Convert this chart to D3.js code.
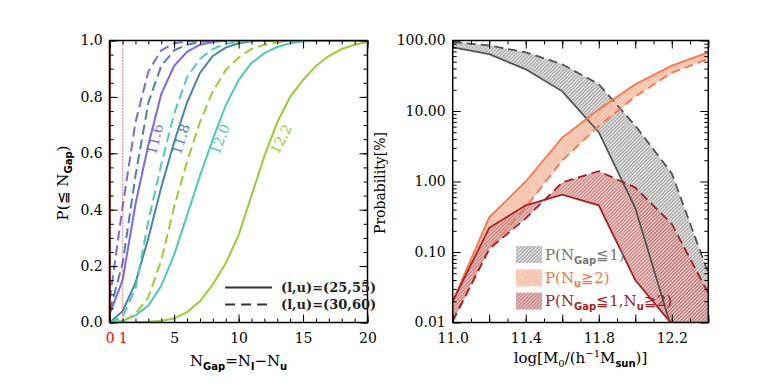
<!DOCTYPE html>
<html>
<head>
<meta charset="utf-8">
<script src="https://cdn.jsdelivr.net/npm/d3@7"></script>
<style>
  body { margin: 0; background: #fff; }
  text { font-family: 'DejaVu Serif', 'Liberation Serif', serif; }
</style>
</head>
<body>
<svg id="chart" width="772" height="386"></svg>
<script>
// ---- left panel data: cumulative P(<= N_gap) for four halo masses ----
const nGap = [0,1,2,3,4,5,6,7,8,9,10,11,12,13,14,15,16,17,18,19,20];
const p116Solid = [0.03,0.15,0.42,0.63,0.81,0.91,0.96,0.985,0.995,1,1,1,1,1,1,1,1,1,1,1,1];
const p116Dash  = [0.08,0.41,0.71,0.89,0.965,0.99,0.997,1,1,1,1,1,1,1,1,1,1,1,1,1,1];
const p118Solid = [0,0.04,0.14,0.30,0.48,0.64,0.78,0.885,0.945,0.975,0.99,0.997,1,1,1,1,1,1,1,1,1];
const p118Dash  = [0.04,0.21,0.52,0.78,0.91,0.965,0.985,0.995,1,1,1,1,1,1,1,1,1,1,1,1,1];
const p120Solid = [0,0.005,0.025,0.06,0.13,0.24,0.38,0.52,0.65,0.77,0.86,0.92,0.955,0.977,0.99,0.996,1,1,1,1,1];
const p120Dash  = [0,0.02,0.12,0.36,0.56,0.74,0.87,0.935,0.97,0.988,0.995,1,1,1,1,1,1,1,1,1,1];
const p122Solid = [0,0,0.001,0.003,0.006,0.014,0.037,0.075,0.135,0.21,0.31,0.45,0.59,0.71,0.80,0.86,0.91,0.945,0.97,0.985,0.995];
const p122Dash  = [0,0.005,0.03,0.09,0.22,0.41,0.57,0.71,0.82,0.895,0.94,0.97,0.985,0.993,1,1,1,1,1,1,1];
const massLabels = ['11.6', '11.8', '12.0', '12.2'];

// ---- right panel data: probabilities [%] vs log M0 ----
const logM0 = [11.0, 11.2, 11.4, 11.6, 11.8, 12.0, 12.2, 12.4];
const gapSolid  = [80, 64, 39, 19, 5.0, 0.42, 0.008, 0.0002];
const gapDash   = [95, 85, 68, 46, 24, 6.2, 1.3, 0.05];
const nuSolid   = [0.02, 0.31, 1.0, 4.2, 10.5, 24, 44, 68];
const nuDash    = [0.0105, 0.11, 0.43, 2.0, 6.1, 16, 35, 55];
const bothSolid = [0.02, 0.22, 0.46, 0.65, 0.46, 0.04, 0.0095, 0.0002];
const bothDash  = [0.0105, 0.11, 0.30, 0.97, 1.4, 0.82, 0.25, 0.026];

// ---- tick values ----
const leftXMajor = [0, 5, 10, 15, 20];
const leftXLabels = [0, 1, 5, 10, 15, 20];
const leftYMajor = [0, 0.2, 0.4, 0.6, 0.8, 1.0];
const rightXLabels = [11.0, 11.4, 11.8, 12.2];
const rightYMajor = [0.01, 0.1, 1, 10, 100];

const svg = d3.select('#chart');
const defs = svg.append('defs');

let yTop = 40.5, yBot = 322.5;

// scales
let xL = d3.scaleLinear().domain([0, 20]).range([109.7, 367.5]),
    yL = d3.scaleLinear().domain([0, 1]).range([yBot, yTop]);
let xR = d3.scaleLinear().domain([11.0, 12.4]).range([452.7, 708.3]),
    yR = d3.scaleLog().domain([0.01, 100]).range([yBot, yTop]);

function clip(id, x) {
  defs.append('clipPath').attr('id', id).append('rect')
    .attr('x', x.range()[0]).attr('y', yTop)
    .attr('width', x.range()[1] - x.range()[0]).attr('height', yBot - yTop);
}
clip('clipL', xL);
clip('clipR', xR);

function hatch(id, bg, line) {
  let p = defs.append('pattern').attr('id', id)
    .attr('patternUnits', 'userSpaceOnUse')
    .attr('width', 2.5).attr('height', 2.5)
    .attr('patternTransform', 'rotate(45)');
  p.append('rect').attr('width', 2.5).attr('height', 2.5).attr('fill', bg);
  p.append('line').attr('x1', 0.5).attr('y1', 0).attr('x2', 0.5).attr('y2', 2.5)
    .attr('stroke', line).attr('stroke-width', 0.9);
}
hatch('hGray', '#d6d6d6', '#9c9c9c');
hatch('hOrange', '#ffd6c4', '#ffa080');
hatch('hRed', '#e0b4b4', '#c06c6c');

// axis helper: inward ticks, no domain line
function axis(g, fn, scale, values, size, fmt) {
  g.call(fn(scale).tickValues(values).tickSizeInner(-size).tickSizeOuter(0)
      .tickPadding(7).tickFormat(fmt || ''))
    .call(s => s.select('.domain').remove())
    .attr('font-family', null).attr('font-size', 14)
    .selectAll('line').attr('stroke', '#000').attr('stroke-width', 1);
  g.selectAll('text').attr('fill', '#000');
}

function frame(x, y, xMajor, xMinor, yMajor, yMinor, xFmt, yFmt, xLabelVals) {
  let x0 = x.range()[0], x1 = x.range()[1];
  let g = svg.append('g');
  axis(g.append('g').attr('transform', `translate(0,${yBot})`), d3.axisBottom, x, xMinor, 4);
  axis(g.append('g').attr('transform', `translate(0,${yBot})`), d3.axisBottom, x, xMajor, 8);
  axis(g.append('g').attr('transform', `translate(0,${yTop})`), d3.axisTop, x, xMinor, 4);
  axis(g.append('g').attr('transform', `translate(0,${yTop})`), d3.axisTop, x, xMajor, 8);
  axis(g.append('g').attr('transform', `translate(${x0},0)`), d3.axisLeft, y, yMinor, 4);
  axis(g.append('g').attr('transform', `translate(${x0},0)`), d3.axisLeft, y, yMajor, 8, yFmt);
  axis(g.append('g').attr('transform', `translate(${x1},0)`), d3.axisRight, y, yMinor, 4);
  axis(g.append('g').attr('transform', `translate(${x1},0)`), d3.axisRight, y, yMajor, 8);
  let lab = g.append('g').attr('transform', `translate(0,${yBot + 4})`);
  axis(lab, d3.axisBottom, x, xLabelVals, 0, xFmt);
  lab.selectAll('line').remove();
  g.append('rect').attr('x', x0).attr('y', yTop).attr('width', x1 - x0).attr('height', yBot - yTop)
    .attr('fill', 'none').attr('stroke', '#000').attr('stroke-width', 1.5);
  return lab;
}

// ================= LEFT PANEL =================
const curves = [
  {solid: p116Solid, dash: p116Dash, color: '#7b68ee', label: massLabels[0], n: 3.5},
  {solid: p118Solid, dash: p118Dash, color: '#4682b4', label: massLabels[1], n: 5.5},
  {solid: p120Solid, dash: p120Dash, color: '#4fcab6', label: massLabels[2], n: 8.55},
  {solid: p122Solid, dash: p122Dash, color: '#9acd32', label: massLabels[3], n: 13.3}
];

let lineL = d3.line().x((d, i) => xL(nGap[i])).y(d => yL(d));
let gL = svg.append('g').attr('clip-path', 'url(#clipL)');

curves.forEach(c => {
  gL.append('path').datum(c.dash).attr('d', lineL).attr('fill', 'none')
    .attr('stroke', c.color).attr('stroke-width', 2).attr('stroke-dasharray', '10,5');
  gL.append('path').datum(c.solid).attr('d', lineL).attr('fill', 'none')
    .attr('stroke', c.color).attr('stroke-width', 2);
});

// marker lines at N_gap = 0 and 1
svg.append('line').attr('x1', xL(0)).attr('x2', xL(0)).attr('y1', yL(0)).attr('y2', yL(1))
  .attr('stroke', '#a51818').attr('stroke-width', 2);
svg.append('line').attr('x1', xL(1)).attr('x2', xL(1)).attr('y1', yL(0)).attr('y2', yL(1))
  .attr('stroke', '#ff2020').attr('stroke-width', 1).attr('stroke-dasharray', '1,2');

// curve labels, rotated along the solid line
curves.forEach(c => {
  let i = Math.floor(c.n);
  let ang = Math.atan2(yL(c.solid[i + 1]) - yL(c.solid[i]), xL(i + 1) - xL(i)) * 180 / Math.PI;
  svg.append('text')
    .attr('transform', `translate(${xL(c.n)},${yL(0.65)}) rotate(${ang})`)
    .attr('text-anchor', 'middle').attr('dy', '0.35em')
    .attr('font-size', 14).attr('fill', c.color).text(c.label);
});

let labL = frame(xL, yL, leftXMajor, nGap, leftYMajor, d3.range(0, 1.001, 0.05),
                 d3.format('d'), d3.format('.1f'), leftXLabels);
labL.selectAll('text').attr('fill', d => d <= 1 ? '#ff0000' : '#000');

// left legend
[['(l,u)=(25,55)', null, 287.5], ['(l,u)=(30,60)', '10,6', 304.5]].forEach(([t, dash, yy]) => {
  svg.append('line').attr('x1', 225).attr('x2', 272).attr('y1', yy).attr('y2', yy)
    .attr('stroke', '#333').attr('stroke-width', 2).attr('stroke-dasharray', dash);
  svg.append('text').attr('x', 281).attr('y', yy + 4.5)
    .attr('font-family', "'Liberation Sans', Arial, sans-serif").attr('font-weight', 'bold')
    .attr('font-size', 13).attr('fill', '#222').text(t);
});

// left axis titles
let sub = (sel, t) => sel.append('tspan').attr('dy', 4).attr('font-size', 10)
  .attr('font-weight', 'bold').attr('font-family', "'DejaVu Sans', sans-serif").text(t);
let up = (sel, t) => sel.append('tspan').attr('dy', -4).text(t);

let ytL = svg.append('text').attr('transform', 'translate(68,183) rotate(-90)')
  .attr('text-anchor', 'middle').attr('font-size', 15).attr('fill', '#000');
ytL.append('tspan').text('P(≦ N');
sub(ytL, 'Gap'); up(ytL, ')');

let xtL = svg.append('text').attr('x', xL(10)).attr('y', 366)
  .attr('text-anchor', 'middle').attr('font-size', 15).attr('fill', '#000');
xtL.append('tspan').text('N');
sub(xtL, 'Gap'); up(xtL, '=N');
sub(xtL, 'l'); up(xtL, '−N');
sub(xtL, 'u');

// ================= RIGHT PANEL =================
const bands = [
  {lo: gapSolid, hi: gapDash, fill: 'url(#hGray)', color: '#555', op: 0.9},
  {lo: nuDash, hi: nuSolid, fill: 'url(#hOrange)', color: '#ff7447', op: 0.9},
  {lo: bothSolid, hi: bothDash, fill: 'url(#hRed)', color: '#a82020', op: 0.85}
];
let gR = svg.append('g').attr('clip-path', 'url(#clipR)');
let areaR = d3.area().x((d, i) => xR(logM0[i])).y0(d => yR(d[0])).y1(d => yR(d[1]));
let lineR = d3.line().x((d, i) => xR(logM0[i])).y(d => yR(d));

bands.forEach(b => {
  gR.append('path').datum(b.lo.map((v, i) => [v, b.hi[i]])).attr('d', areaR)
    .attr('fill', b.fill).attr('fill-opacity', b.op).attr('stroke', 'none');
});
const bandLines = [
  [gapSolid, bands[0].color, null], [gapDash, bands[0].color, '9,5'],
  [nuSolid, bands[1].color, null], [nuDash, bands[1].color, '9,5'],
  [bothSolid, bands[2].color, null], [bothDash, bands[2].color, '9,5']
];
bandLines.forEach(([vals, col, dash]) => {
  gR.append('path').datum(vals).attr('d', lineR).attr('fill', 'none')
    .attr('stroke', col).attr('stroke-width', 1.8).attr('stroke-dasharray', dash);
});

let rMinorY = [];
rightYMajor.slice(0, -1).forEach(d => [2,3,4,5,6,7,8,9].forEach(k => rMinorY.push(d * k)));
frame(xR, yR, d3.range(11.0, 12.41, 0.2), d3.range(11.0, 12.41, 0.1), rightYMajor, rMinorY,
      d3.format('.1f'), d3.format('.2f'), rightXLabels);

// right legend
const legendR = [
  {fill: 'url(#hGray)', color: '#777', parts: [['P(N'], ['Gap', 's'], ['≦1)', 'u']]},
  {fill: 'url(#hOrange)', color: '#ff7447', parts: [['P(N'], ['u', 's'], ['≧2)', 'u']]},
  {fill: 'url(#hRed)', color: '#a82020', parts: [['P(N'], ['Gap', 's'], ['≦1,N', 'u'], ['u', 's'], ['≧2)', 'u']]}
];
legendR.forEach((l, i) => {
  let yy = 246 + i * 23.3;
  svg.append('rect').attr('x', 516).attr('y', yy).attr('width', 26).attr('height', 17)
    .attr('fill', l.fill).attr('fill-opacity', 0.9);
  let t = svg.append('text').attr('x', 545).attr('y', yy + 13.5)
    .attr('font-size', 15).attr('fill', l.color);
  l.parts.forEach(([s, k]) => {
    if (k === 's') sub(t, s);
    else if (k === 'u') up(t, s);
    else t.append('tspan').text(s);
  });
});

// right axis titles
svg.append('text').attr('transform', 'translate(385,183) rotate(-90)')
  .attr('text-anchor', 'middle').attr('font-size', 14).attr('fill', '#000')
  .text('Probability[%]');

let xtR = svg.append('text').attr('x', xR(11.7)).attr('y', 363)
  .attr('text-anchor', 'middle').attr('font-size', 15).attr('fill', '#000');
xtR.append('tspan').text('log[M');
xtR.append('tspan').attr('dy', 4).attr('font-size', 10).text('0');
xtR.append('tspan').attr('dy', -4).text('/(h');
xtR.append('tspan').attr('dy', -6).attr('font-size', 10).text('−1');
xtR.append('tspan').attr('dy', 6).text('M');
sub(xtR, 'sun'); up(xtR, ')]');
</script>
</body>
</html>
